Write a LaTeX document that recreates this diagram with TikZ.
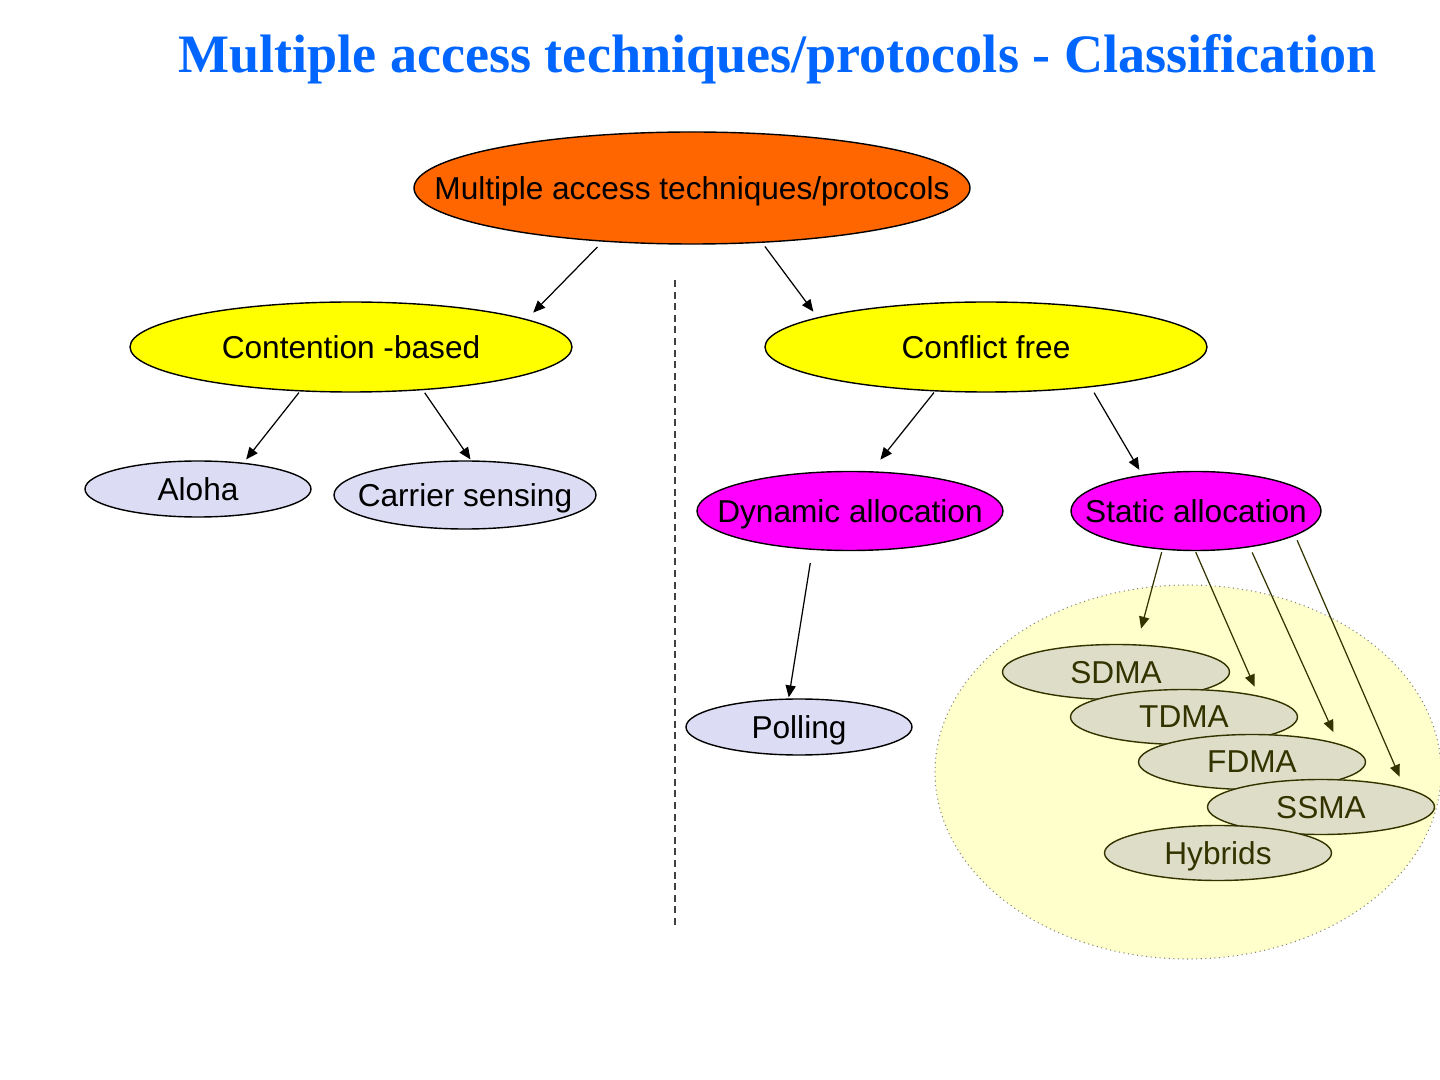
\documentclass[tikz,border=0pt]{standalone}
\usepackage{fontspec}
\setmainfont{Liberation Sans}
\newfontfamily\titlefont{Liberation Serif}
\usetikzlibrary{shapes.geometric,arrows.meta}
\definecolor{titleblue}{HTML}{0066FF}
\definecolor{rootorange}{HTML}{FF6600}
\definecolor{branchyellow}{HTML}{FFFF00}
\definecolor{allocmag}{HTML}{FF00FF}
\definecolor{lavender}{HTML}{DCDCF4}
\definecolor{zonefill}{HTML}{FFFFCC}
\definecolor{olivefill}{HTML}{DEDEC8}
\definecolor{olive}{HTML}{333300}
% keep the text from widening the ellipse
\newcommand{\inlbl}[1]{\makebox[0pt]{#1}}
\tikzstyle{blob}=[ellipse, draw, inner sep=0pt, text depth=0pt, line width=0.4pt, font=\fontsize{9}{11}\selectfont]
\tikzstyle{scheme}=[blob, fill=olivefill, draw=olive, text=olive, minimum width=2.27cm, minimum height=0.55cm]
\tikzset{conn/.style={-{Triangle[length=3.4pt,width=2.9pt]}, line width=0.35pt}}

\begin{document}
\begin{tikzpicture}
  \useasboundingbox (0,0) rectangle (14.4,-10.8);
  \node[anchor=base, text=titleblue, font=\titlefont\bfseries\fontsize{15.4}{18}\selectfont] (title) at (7.775,-0.73)
    {Multiple access techniques/protocols - Classification};

  \node[blob, fill=rootorange, minimum width=5.56cm, minimum height=1.12cm] (top) at (6.92,-1.88) {\inlbl{Multiple access techniques/protocols}};
  \node[blob, fill=branchyellow, minimum width=4.42cm, minimum height=0.9cm] (cb) at (3.51,-3.47) {\inlbl{Contention -based}};
  \node[blob, fill=branchyellow, minimum width=4.42cm, minimum height=0.9cm] (cf) at (9.86,-3.47) {\inlbl{Conflict free}};
  \node[blob, fill=lavender, minimum width=2.26cm, minimum height=0.56cm] (aloha) at (1.98,-4.89) {\inlbl{Aloha}};
  \node[blob, fill=lavender, minimum width=2.62cm, minimum height=0.68cm] (carrier) at (4.65,-4.95) {\inlbl{Carrier sensing}};
  \node[blob, fill=allocmag, minimum width=3.06cm, minimum height=0.79cm] (dyn) at (8.50,-5.11) {\inlbl{Dynamic allocation}};
  \node[blob, fill=allocmag, minimum width=2.5cm, minimum height=0.79cm] (stat) at (11.96,-5.11) {\inlbl{Static allocation}};
  \node[blob, fill=lavender, minimum width=2.26cm, minimum height=0.56cm] (polling) at (7.99,-7.27) {\inlbl{Polling}};

  % the static group
  \node[ellipse, fill=zonefill, draw=gray, densely dotted, line width=0.3pt, minimum width=5.06cm, minimum height=3.74cm] (zone) at (11.88,-7.72) {};
  \node[scheme] (sdma) at (11.16,-6.72) {\inlbl{SDMA}};
  \node[scheme] (tdma) at (11.84,-7.17) {\inlbl{TDMA}};
  \node[scheme] (fdma) at (12.52,-7.62) {\inlbl{FDMA}};
  \node[scheme] (ssma) at (13.21,-8.07) {\inlbl{SSMA}};
  \node[scheme] (hyb) at (12.18,-8.53) {\inlbl{Hybrids}};

  \coordinate (splittop) at (6.75,-2.8);
  \coordinate (splitbot) at (6.75,-9.25);
  \draw[darkgray, line width=0.4pt, dash pattern=on 2pt off 1.3pt] (splittop) -- (splitbot);

  \draw[conn, shorten <=2.1pt, shorten >=2.6pt] (top.211) to (cb.9.8);
  \draw[conn, shorten <=1.3pt, shorten >=2pt] (top.322.9) to (cf.170.7);
  \draw[conn, shorten <=0.4pt, shorten >=1.2pt] (cb.221.8) to (aloha.30.2);
  \draw[conn, shorten <=0.9pt, shorten >=0.3pt] (cb.329.9) to (carrier.80.5);
  \draw[conn, shorten <=0.4pt, shorten >=4.2pt] (cf.221.8) to (dyn.62.5);
  \draw[conn, shorten <=1.8pt, shorten >=1.6pt] (cf.339.5) to (stat.146.4);
  \draw[conn, shorten <=3.8pt, shorten >=0.3pt] (dyn.226.5) to (polling.110);
  \draw[conn, olive, shorten <=0.7pt, shorten >=4.6pt] (stat.229.2) to (sdma.53.6);
  \draw[conn, olive, shorten <=0.3pt, shorten >=2.8pt] (stat.269) to (tdma.16.3);
  \draw[conn, olive, shorten <=1.6pt, shorten >=3.6pt] (stat.326.8) to (fdma.12.4);
  \draw[conn, olive, shorten <=1.4pt, shorten >=3.4pt] (stat.346.2) to (ssma.13.2);
\end{tikzpicture}
\end{document}
